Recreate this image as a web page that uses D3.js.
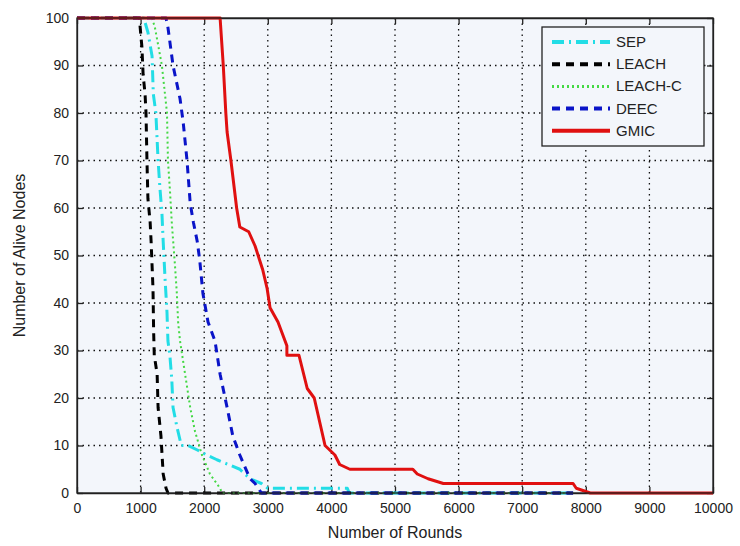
<!DOCTYPE html>
<html>
<head>
<meta charset="utf-8">
<script src="https://cdn.jsdelivr.net/npm/d3@7"></script>
<style>
  body { margin: 0; background: #fff; }
  svg text { font-family: "Liberation Sans", Arial, sans-serif; fill: #222; }
</style>
</head>
<body>
<svg id="chart" width="740" height="546"></svg>
<script>
// alive nodes per round
const sep = [[0,100],[1050,100],[1115,97],[1180,92],[1200,84],[1240,80],[1275,70],[1305,64],[1335,59],[1355,53],[1385,45],[1415,38],[1430,32],[1460,29],[1490,24],[1510,18],[1570,14],[1640,10],[1750,10],[1900,9],[2040,8],[2200,7],[2560,5],[2720,3],[2900,2],[3000,1],[4250,1],[4280,0],[7800,0]]
const leach = [[0,100],[980,100],[1020,94],[1040,88],[1070,84],[1085,80],[1100,70],[1115,62],[1150,57],[1165,53],[1180,48],[1195,43],[1205,34],[1215,29],[1260,25],[1275,18],[1320,12],[1355,4],[1400,1],[1430,0],[7800,0]]
const leachC = [[0,100],[1180,100],[1225,98],[1335,90],[1415,80],[1430,70],[1460,64],[1490,57],[1540,48],[1570,42],[1590,36],[1620,32],[1700,25],[1780,18],[1855,13],[1965,8],[2090,4],[2250,1],[2280,0],[7800,0]]
const deec = [[0,100],[1400,100],[1430,98],[1510,90],[1620,83],[1670,78],[1730,70],[1780,61],[1830,57],[1890,53],[1930,49],[1980,42],[2060,36],[2170,32],[2250,25],[2360,18],[2450,12],[2560,8],[2720,3],[2800,2],[2900,0],[7800,0]]
const gmic = [[0,100],[2250,100],[2300,90],[2340,80],[2360,76],[2420,70],[2510,60],[2560,56],[2700,55],[2800,52],[2920,47],[2990,43],[3035,39],[3160,36],[3300,31],[3300,29],[3490,29],[3620,22],[3730,20],[3900,10],[4055,8],[4130,6],[4290,5],[4500,5],[5280,5],[5350,4],[5520,3],[5760,2],[7800,2],[7850,1],[8070,0],[10000,0]]

const xTicks = [0,1000,2000,3000,4000,5000,6000,7000,8000,9000,10000]
const yTicks = [0,10,20,30,40,50,60,70,80,90,100]

const series = [
  {name: 'SEP', data: sep, color: '#22dde6', width: 3, dash: '12,5,2,5'},
  {name: 'LEACH', data: leach, color: '#000', width: 3, dash: '8,6'},
  {name: 'LEACH-C', data: leachC, color: '#44d844', width: 2, dash: '2,3'},
  {name: 'DEEC', data: deec, color: '#0a14c8', width: 3, dash: '8,6'},
  {name: 'GMIC', data: gmic, color: '#e01010', width: 3, dash: null}
]

const margin = {top: 18, right: 27, bottom: 53, left: 77}
const W = 740, H = 546
const iw = W - margin.left - margin.right
const ih = H - margin.top - margin.bottom

const svg = d3.select('#chart')
const g = svg.append('g').attr('transform', `translate(${margin.left},${margin.top})`)

const x = d3.scaleLinear().domain([0, 10000]).range([0, iw])
const y = d3.scaleLinear().domain([0, 100]).range([ih, 0])

g.append('rect').attr('width', iw).attr('height', ih).attr('fill', '#f3f6fb')

// dotted grid
g.selectAll('.gx').data(xTicks.slice(1, -1)).enter().append('line')
  .attr('x1', d => x(d)).attr('x2', d => x(d)).attr('y1', 0).attr('y2', ih)
  .attr('stroke', '#111').attr('stroke-width', 1.3).attr('stroke-dasharray', '1.5,4')
g.selectAll('.gy').data(yTicks.slice(1, -1)).enter().append('line')
  .attr('y1', d => y(d)).attr('y2', d => y(d)).attr('x1', 0).attr('x2', iw)
  .attr('stroke', '#111').attr('stroke-width', 1.3).attr('stroke-dasharray', '1.5,4')

// axes, ticks inward on all four sides
const fmt = d3.format('d')
g.append('g').attr('transform', `translate(0,${ih})`)
  .call(d3.axisBottom(x).tickValues(xTicks).tickFormat(fmt).tickSizeInner(-6).tickSizeOuter(0).tickPadding(10))
g.append('g')
  .call(d3.axisLeft(y).tickValues(yTicks).tickFormat(fmt).tickSizeInner(-6).tickSizeOuter(0).tickPadding(8))
g.append('g').call(d3.axisTop(x).tickValues(xTicks).tickFormat('').tickSizeInner(-6).tickSizeOuter(0))
g.append('g').attr('transform', `translate(${iw},0)`)
  .call(d3.axisRight(y).tickValues(yTicks).tickFormat('').tickSizeInner(-6).tickSizeOuter(0))
g.selectAll('.domain').attr('stroke', '#222').attr('stroke-width', 1.3)
g.selectAll('.tick line').attr('stroke', '#222').attr('stroke-width', 1.3)
g.selectAll('.tick text').attr('font-size', 14).attr('fill', '#222')

// curves
const line = d3.line().x(d => x(d[0])).y(d => y(d[1]))
const plot = g.append('g')
series.forEach(s => {
  plot.append('path').datum(s.data)
    .attr('d', line)
    .attr('fill', 'none')
    .attr('stroke', s.color)
    .attr('stroke-width', s.width)
    .attr('stroke-dasharray', s.dash)
    .attr('stroke-linejoin', 'round')
})

// box on top
g.append('rect').attr('width', iw).attr('height', ih).attr('fill', 'none')
  .attr('stroke', '#222').attr('stroke-width', 1.3)

// legend
const lg = g.append('g').attr('transform', `translate(${542 - margin.left},${27 - margin.top})`)
lg.append('rect').attr('width', 162).attr('height', 119).attr('fill', '#f3f6fb')
  .attr('stroke', '#222').attr('stroke-width', 1.3)
series.forEach((s, i) => {
  const yy = 15 + i * 22.2
  lg.append('line').attr('x1', 10).attr('x2', 68).attr('y1', yy).attr('y2', yy)
    .attr('stroke', s.color).attr('stroke-width', s.width + 1).attr('stroke-dasharray', s.dash)
  lg.append('text').attr('x', 74).attr('y', yy + 5).attr('font-size', 15).text(s.name)
})

// axis titles
svg.append('text').attr('x', margin.left + iw / 2).attr('y', 538)
  .attr('text-anchor', 'middle').attr('font-size', 16).text('Number of Rounds')
svg.append('text').attr('transform', `translate(25,${margin.top + ih / 2}) rotate(-90)`)
  .attr('text-anchor', 'middle').attr('font-size', 16).text('Number of Alive Nodes')
</script>
</body>
</html>
